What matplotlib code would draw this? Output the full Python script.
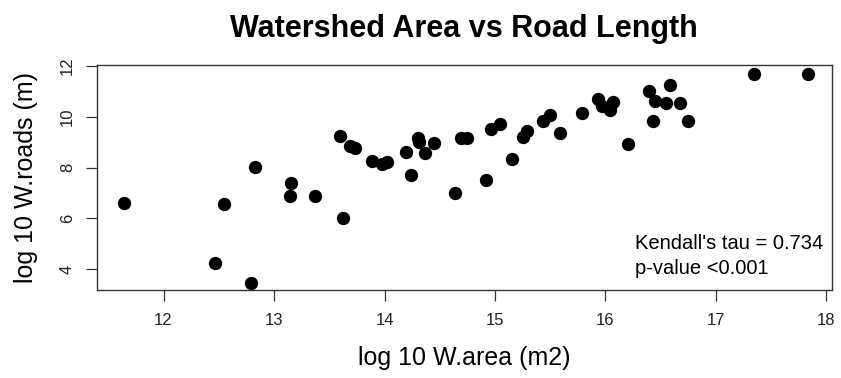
import matplotlib
matplotlib.use("Agg")
import matplotlib.pyplot as plt

plt.rcParams['font.family'] = ['Liberation Sans', 'DejaVu Sans']

log_area = [11.645, 12.548, 12.47, 12.79, 12.826, 13.155, 13.146, 13.37, 13.60, 13.62,
            13.69, 13.735, 13.889, 13.976, 14.02, 14.197, 14.24, 14.30, 14.31, 14.37,
            14.45, 14.634, 14.695, 14.75, 14.915, 14.963, 15.048, 15.157, 15.256, 15.29,
            15.43, 15.495, 15.585, 15.79, 15.93, 15.97, 16.04, 16.07, 16.20, 16.39,
            16.43, 16.45, 16.55, 16.58, 16.67, 16.75, 17.34, 17.83]
log_roads = [6.62, 6.56, 4.25, 3.48, 8.04, 7.39, 6.87, 6.87, 9.26, 6.02,
             8.86, 8.76, 8.25, 8.15, 8.20, 8.62, 7.72, 9.15, 9.00, 8.58,
             8.98, 7.00, 9.17, 9.17, 7.52, 9.53, 9.71, 8.33, 9.22, 9.43,
             9.82, 10.08, 9.37, 10.16, 10.70, 10.43, 10.28, 10.58, 8.93, 10.99,
             9.82, 10.63, 10.54, 11.24, 10.52, 9.82, 11.67, 11.67]

x_ticks = [12, 13, 14, 15, 16, 17, 18]
y_ticks = [4, 6, 8, 10, 12]
title = "Watershed Area vs Road Length"
x_label = "log 10 W.area (m2)"
y_label = "log 10 W.roads (m)"
stat_lines = ["Kendall's tau = 0.734", "p-value <0.001"]

fig = plt.figure(figsize=(8.41, 3.78), dpi=100)
ax = fig.add_axes([96.7/841, 1-290/378, (832-96.7)/841, (290-65)/378])

ax.plot(log_area, log_roads, 'o', color='black', markersize=9.6, markeredgewidth=0)

ax.set_xlim(11.395, 18.05)
ax.set_ylim(3.19, 12.03)
ax.set_xticks(x_ticks)
ax.set_yticks(y_ticks)
ax.set_xticklabels([str(t) for t in x_ticks])
ax.set_yticklabels([str(t) for t in y_ticks], rotation=90, va='center')

for s in ax.spines.values():
    s.set_color('#333333')
    s.set_linewidth(1.0)
ax.tick_params(axis='both', direction='out', length=7.8, width=0.9, color='#333333',
               labelsize=12, labelcolor='#222222')
ax.tick_params(axis='x', pad=9)
ax.tick_params(axis='y', pad=8)

ax.set_title(title, fontsize=22, fontweight='bold', pad=20)
ax.set_xlabel(x_label, fontsize=18, labelpad=13)
ax.set_ylabel(y_label, fontsize=18, labelpad=16)

ax.text(16.27, 5.03, stat_lines[0], fontsize=14.5, ha='left', va='center')
ax.text(16.27, 4.05, stat_lines[1], fontsize=14.5, ha='left', va='center')

fig.savefig("out.png", dpi=100)
